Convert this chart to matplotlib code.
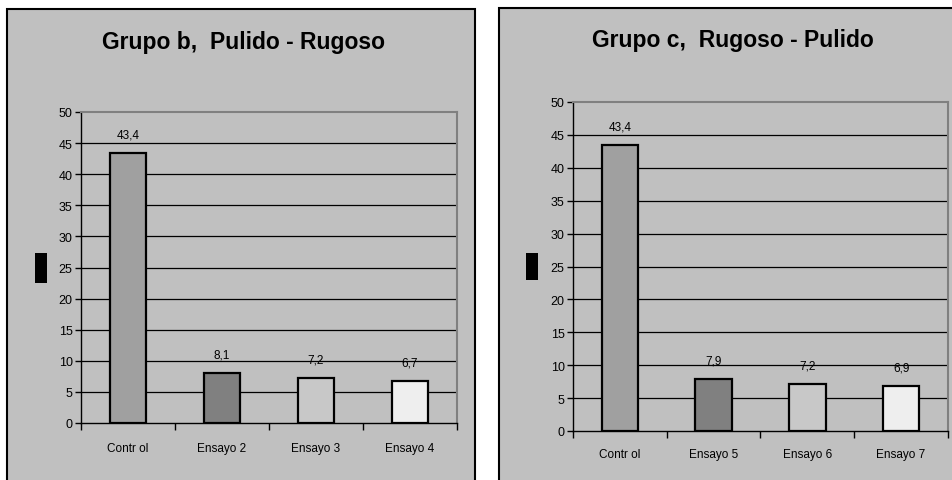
import matplotlib
matplotlib.use("Agg")
import matplotlib.pyplot as plt
from matplotlib.patches import Rectangle

plt.rcParams['font.family'] = ['Liberation Sans', 'DejaVu Sans']

W, H = 953, 481

# Data
titles = ["Grupo b,  Pulido - Rugoso", "Grupo c,  Rugoso - Pulido"]
cats_b = ["Contr ol", "Ensayo 2", "Ensayo 3", "Ensayo 4"]
vals_b = [43.4, 8.1, 7.2, 6.7]
cats_c = ["Contr ol", "Ensayo 5", "Ensayo 6", "Ensayo 7"]
vals_c = [43.4, 7.9, 7.2, 6.9]
yticks = [0, 5, 10, 15, 20, 25, 30, 35, 40, 45, 50]

bar_colors = ["#a0a0a0", "#808080", "#c8c8c8", "#eeeeee"]
bg = "#c0c0c0"

fig = plt.figure(figsize=(W / 100, H / 100), dpi=100)
fig.patch.set_facecolor("white")


def px_rect(x0, y0, x1, y1, **kw):
    # pixel coords with y from top
    return Rectangle((x0 / W, 1 - y1 / H), (x1 - x0) / W, (y1 - y0) / H,
                     transform=fig.transFigure, figure=fig, **kw)


def panel(frame, plot, rect, title, title_xy, cats, vals, xpad):
    fig.patches.append(px_rect(*frame, facecolor=bg, edgecolor="black", linewidth=1.5, zorder=-10))
    fig.patches.append(px_rect(*rect, facecolor="black", edgecolor="none", zorder=-5))
    fig.text(title_xy[0] / W, 1 - title_xy[1] / H, title, ha="center", va="center",
             fontsize=16.5, fontweight="bold")
    x0, y0, x1, y1 = plot
    ax = fig.add_axes([x0 / W, 1 - y1 / H, (x1 - x0) / W, (y1 - y0) / H])
    ax.set_zorder(5)
    ax.set_facecolor(bg)
    n = len(cats)
    xs = list(range(n))
    ax.bar(xs, vals, width=0.39, color=bar_colors[:n], edgecolor="black",
           linewidth=1.6, zorder=3)
    for x, v in zip(xs, vals):
        ax.annotate(f"{v:.1f}".replace(".", ","), (x, v), xytext=(0, 9),
                    textcoords="offset points", ha="center", va="bottom", fontsize=8.5)
    ax.set_xlim(-0.5, n - 0.5)
    ax.set_ylim(0, 50)
    ax.set_yticks(yticks)
    ax.set_yticklabels([str(t) for t in yticks], fontsize=9)
    for t in yticks[1:-1]:
        ax.axhline(t, color="black", linewidth=0.9, zorder=1)
    ax.set_xticks([i - 0.5 for i in range(n + 1)])
    ax.set_xticklabels([])
    ax.set_xticks(xs, minor=True)
    ax.set_xticklabels(cats, minor=True, fontsize=8.5)
    ax.tick_params(axis="x", which="major", direction="out", length=5, width=1)
    ax.tick_params(axis="x", which="minor", length=0, pad=xpad)
    ax.tick_params(axis="y", direction="out", length=4, width=1, pad=2)
    ax.spines["left"].set_color("black")
    ax.spines["bottom"].set_color("black")
    ax.spines["left"].set_linewidth(1)
    ax.spines["bottom"].set_linewidth(1)
    ax.spines["top"].set_color("#808080")
    ax.spines["right"].set_color("#808080")
    ax.spines["top"].set_linewidth(1.5)
    ax.spines["right"].set_linewidth(1.5)
    return ax


panel((7, 10, 475, 490), (81, 113, 457, 424), (35, 254, 47, 284),
      titles[0], (243, 42), cats_b, vals_b, 14)
panel((499, 9, 965, 490), (573, 103, 948, 432), (526, 254, 538, 281),
      titles[1], (733, 40), cats_c, vals_c, 12)

fig.savefig("out.png", dpi=100)
